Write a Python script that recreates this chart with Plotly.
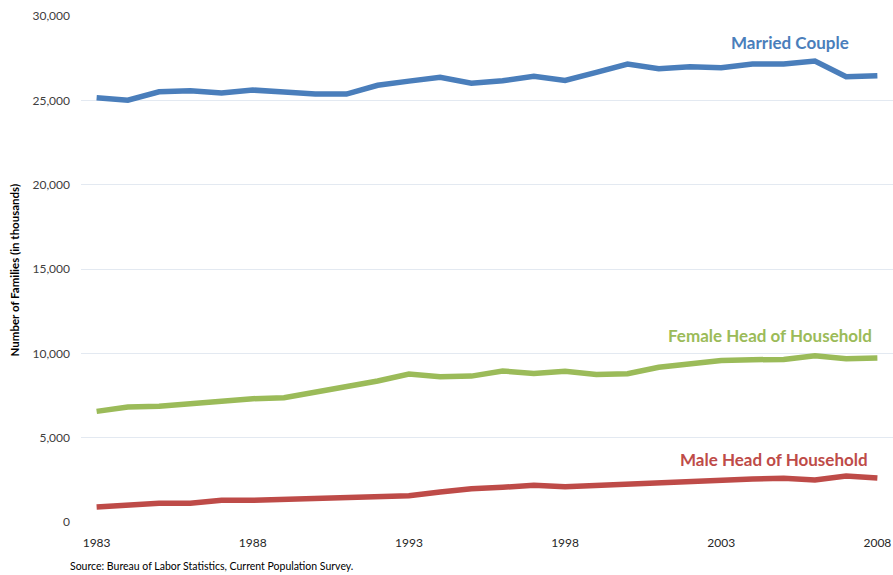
import plotly.graph_objects as go

years = list(range(1983, 2009))
married_couple = [25150, 25010, 25510, 25570, 25430, 25610, 25490, 25370, 25370, 25890,
                  26140, 26360, 26020, 26160, 26420, 26180, 26660, 27150, 26870, 26990,
                  26930, 27150, 27150, 27330, 26400, 26460]
female_head = [6560, 6820, 6860, 7010, 7150, 7310, 7370, 7690, 7980, 8360,
               8770, 8610, 8650, 8950, 8810, 8930, 8750, 8790, 9170, 9410,
               9580, 9620, 9640, 9860, 9680, 9720]
male_head = [890, 1030, 1110, 1110, 1290, 1290, 1350, 1350, 1440, 1500,
             1560, 1780, 1970, 2060, 2180, 2090, 2180, 2250, 2330, 2390,
             2490, 2550, 2590, 2490, 2730, 2610]
x_ticks = [1983, 1988, 1993, 1998, 2003, 2008]
y_ticks = [0, 5000, 10000, 15000, 20000, 25000, 30000]

BLUE = "#4a7ebb"
GREEN = "#9bbb59"
RED = "#be4b48"
FONT = "Lato, Open Sans, sans-serif"

fig = go.Figure()
for name, vals, col in [("Married Couple", married_couple, BLUE),
                        ("Female Head of Household", female_head, GREEN),
                        ("Male Head of Household", male_head, RED)]:
    fig.add_trace(go.Scatter(x=years, y=vals, mode="lines", name=name,
                             line=dict(color=col, width=5.5), showlegend=False))

fig.update_layout(
    width=893, height=575,
    margin=dict(l=81, r=0, t=16, b=53, autoexpand=False),
    plot_bgcolor="white", paper_bgcolor="white",
    font=dict(family=FONT, size=12, color="#404040"),
    xaxis=dict(range=[1982.5, 2008.5], tickvals=x_ticks, showgrid=False,
               zeroline=False, showline=False, ticks="", ticklabelstandoff=12,
               tickfont=dict(size=12, color="#262626")),
    yaxis=dict(range=[0, 30000], tickvals=y_ticks, tickformat=",",
               showgrid=True, gridcolor="#e3e9f1", gridwidth=1.3, zeroline=False,
               showline=False, ticks="", ticklabelstandoff=10,
               tickfont=dict(size=12, color="#404040")),
)

ann = [
    dict(text="Married Couple", x=2005.2, y=28400, color=BLUE),
    dict(text="Female Head of Household", x=2004.55, y=11030, color=GREEN),
    dict(text="Male Head of Household", x=2004.7, y=3730, color=RED),
]
for a in ann:
    fig.add_annotation(x=a["x"], y=a["y"], xref="x", yref="y", text="<b>%s</b>" % a["text"],
                       showarrow=False, font=dict(family=FONT, size=17, color=a["color"]),
                       xanchor="center", yanchor="middle")

fig.add_annotation(text="<b>Number of Families (in thousands)</b>", textangle=-90,
                   xref="paper", yref="paper", x=-0.082, y=0.498, showarrow=False,
                   font=dict(family=FONT, size=11.5, color="#000000"),
                   xanchor="center", yanchor="middle")
fig.add_annotation(text="Source: Bureau of Labor Statistics, Current Population Survey.",
                   xref="paper", yref="paper", x=-0.0165, y=-0.087, showarrow=False,
                   font=dict(family=FONT, size=10.5, color="#000000"),
                   xanchor="left", yanchor="middle")

fig.write_html("out.html", config={"displayModeBar": False},
               post_script="document.body.style.margin='0';")
